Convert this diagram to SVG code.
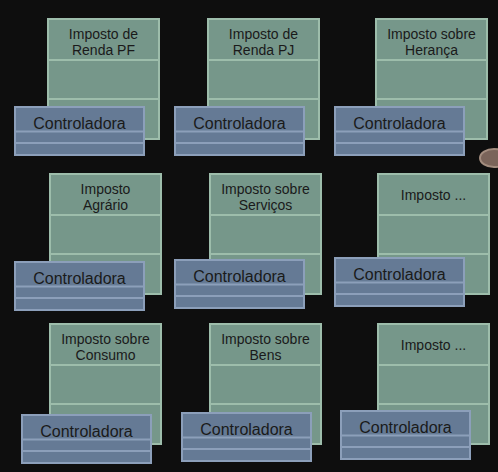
<svg xmlns="http://www.w3.org/2000/svg" width="498" height="472" viewBox="0 0 498 472">
<style>
.bg{fill:#0e0e0e}
.cls{fill:#76978a;stroke:#9dbdab;stroke-width:2}
.div{stroke:#9dbdab;stroke-width:2}
.ctl{fill:#657a95;stroke:#8c9fba;stroke-width:2}
.cdiv{stroke:#8c9fba;stroke-width:2}
.t{font-family:"Liberation Sans",Arial,sans-serif;font-size:14px;fill:#1a1a1a;text-anchor:middle}
.ct{font-family:"Liberation Sans",Arial,sans-serif;font-size:16px;fill:#1a1a1a;text-anchor:middle}
.ell{fill:#7a645a;stroke:#a38d7f;stroke-width:2}
</style>
<defs>
<g id="greenBox">
<rect class="cls" x="1" y="1" width="111" height="120"/>
<line class="div" x1="1" y1="42" x2="112" y2="42"/>
<line class="div" x1="1" y1="81" x2="112" y2="81"/>
</g>
<g id="blueBox">
<rect class="ctl" x="1" y="1" width="129" height="48"/>
<line class="cdiv" x1="1" y1="25.5" x2="130" y2="25.5"/>
<line class="cdiv" x1="1" y1="37" x2="130" y2="37"/>
<text class="ct" x="65.5" y="22.5">Controladora</text>
</g>
</defs>
<rect class="bg" x="0" y="0" width="498" height="472"/>
<g id="connectors"/>
<ellipse id="oval" class="ell" cx="494" cy="158" rx="14" ry="9"/>

<g id="impostoRendaPF" transform="translate(47,18)">
<use href="#greenBox"/>
<text class="t" x="56.5" y="20.5">Imposto de</text>
<text class="t" x="56.5" y="37">Renda PF</text>
</g>
<g id="impostoRendaPJ" transform="translate(207,18)">
<use href="#greenBox"/>
<text class="t" x="56.5" y="20.5">Imposto de</text>
<text class="t" x="56.5" y="37">Renda PJ</text>
</g>
<g id="impostoHeranca" transform="translate(375,18)">
<use href="#greenBox"/>
<text class="t" x="56.5" y="20.5">Imposto sobre</text>
<text class="t" x="56.5" y="37">Herança</text>
</g>
<g id="controladora1" transform="translate(14,106)"><use href="#blueBox"/></g>
<g id="controladora2" transform="translate(174,106)"><use href="#blueBox"/></g>
<g id="controladora3" transform="translate(334,106)"><use href="#blueBox"/></g>

<g id="impostoAgrario" transform="translate(49,173)">
<use href="#greenBox"/>
<text class="t" x="56.5" y="20.5">Imposto</text>
<text class="t" x="56.5" y="37">Agrário</text>
</g>
<g id="impostoServicos" transform="translate(209,173)">
<use href="#greenBox"/>
<text class="t" x="56.5" y="20.5">Imposto sobre</text>
<text class="t" x="56.5" y="37">Serviços</text>
</g>
<g id="impostoOutro1" transform="translate(377,173)">
<use href="#greenBox"/>
<text class="t" x="56.5" y="27">Imposto ...</text>
</g>
<g id="controladora4" transform="translate(14,261)"><use href="#blueBox"/></g>
<g id="controladora5" transform="translate(174,259)"><use href="#blueBox"/></g>
<g id="controladora6" transform="translate(334,257)"><use href="#blueBox"/></g>

<g id="impostoConsumo" transform="translate(49,323)">
<use href="#greenBox"/>
<text class="t" x="56.5" y="20.5">Imposto sobre</text>
<text class="t" x="56.5" y="37">Consumo</text>
</g>
<g id="impostoBens" transform="translate(209,323)">
<use href="#greenBox"/>
<text class="t" x="56.5" y="20.5">Imposto sobre</text>
<text class="t" x="56.5" y="37">Bens</text>
</g>
<g id="impostoOutro2" transform="translate(377,323)">
<use href="#greenBox"/>
<text class="t" x="56.5" y="27">Imposto ...</text>
</g>
<g id="controladora7" transform="translate(21,414)"><use href="#blueBox"/></g>
<g id="controladora8" transform="translate(181,412)"><use href="#blueBox"/></g>
<g id="controladora9" transform="translate(340,410)"><use href="#blueBox"/></g>
</svg>
